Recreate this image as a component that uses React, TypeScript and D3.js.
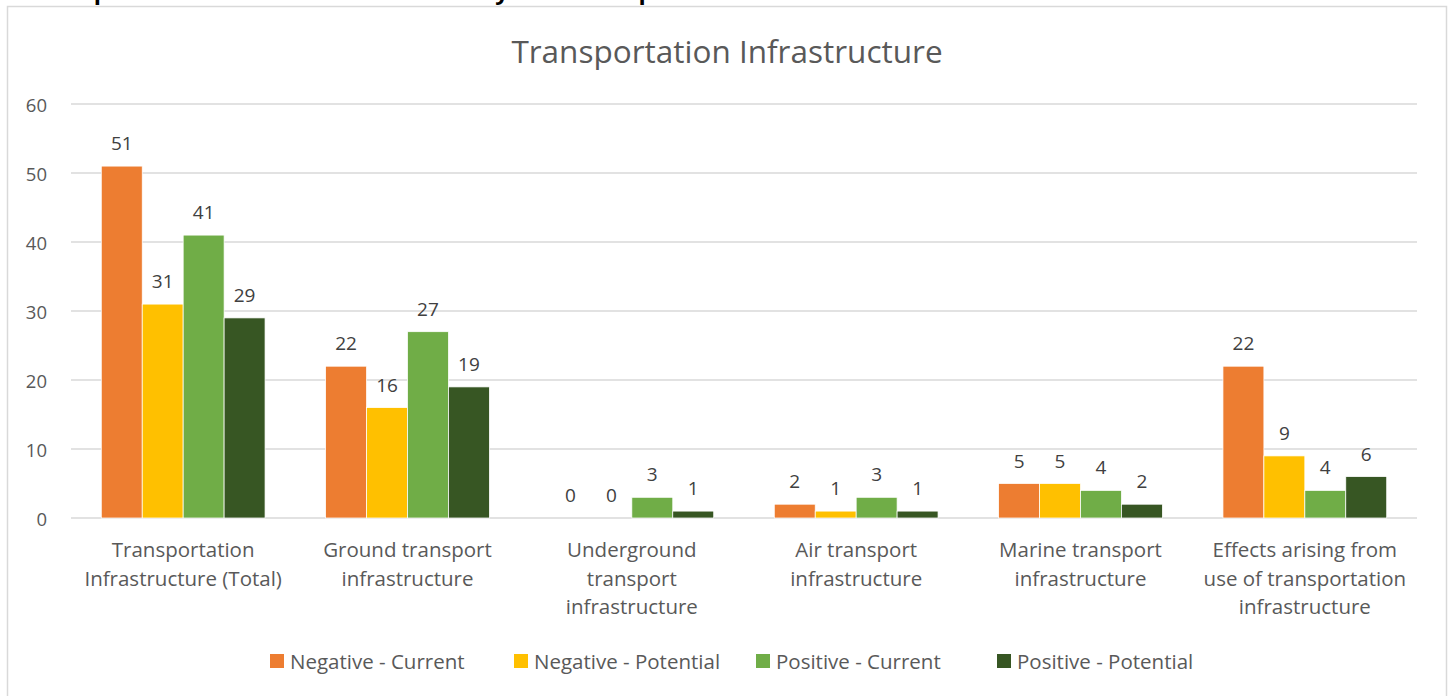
import React from "react";
import * as d3 from "d3";

const categories = [
  ["Transportation", "Infrastructure (Total)"],
  ["Ground transport", "infrastructure"],
  ["Underground", "transport", "infrastructure"],
  ["Air transport", "infrastructure"],
  ["Marine transport", "infrastructure"],
  ["Effects arising from", "use of transportation", "infrastructure"],
];
const seriesNames = ["Negative - Current", "Negative - Potential", "Positive - Current", "Positive - Potential"];
const seriesColors = ["#ED7D31", "#FFC000", "#70AD47", "#375623"];
const negativeCurrent = [51, 22, 0, 2, 5, 22];
const negativePotential = [31, 16, 0, 1, 5, 9];
const positiveCurrent = [41, 27, 3, 3, 4, 4];
const positivePotential = [29, 19, 1, 1, 2, 6];
const yTicks = [0, 10, 20, 30, 40, 50, 60];
const legendX = [270, 514, 756, 997];

const seriesValues = [negativeCurrent, negativePotential, positiveCurrent, positivePotential];

const W = 1448;
const H = 696;
const plotLeft = 71;
const plotRight = 1417;
const plotTop = 104;
const plotBottom = 518;
const FONT = "'Open Sans', sans-serif";

export default function App() {
  const idx = categories.map((_, i) => i);
  const x0 = d3.scaleBand<number>().domain(idx).range([plotLeft, plotRight]).paddingInner(0.27).paddingOuter(0.135);
  const x1 = d3.scaleBand<number>().domain(seriesNames.map((_, i) => i)).range([0, x0.bandwidth()]).padding(0);
  const y = d3.scaleLinear().domain([0, 60]).range([plotBottom, plotTop]);

  return (
    <svg width={W} height={H} style={{ position: "absolute", left: 0, top: 0, background: "#fff" }}>
      <text x={28} y={0} fontFamily={FONT} fontWeight="bold" fontSize={22} fill="#000" textLength={662} lengthAdjust="spacingAndGlyphs">
        Transportation Infrastructure Secondary Factors Impact
      </text>
      <rect x={7.5} y={6.5} width={1439} height={700} fill="#fff" stroke="#D9D9D9" strokeWidth={1.5} />
      <text x={727} y={50} textAnchor="middle" dominantBaseline="central" fontFamily={FONT} fontSize={31.5} fill="#595959">
        Transportation Infrastructure
      </text>
      {yTicks.map((t) => (
        <g key={t}>
          <line x1={plotLeft} x2={plotRight} y1={y(t)} y2={y(t)} stroke="#D9D9D9" strokeWidth={1.3} />
          <text x={47} y={y(t)} textAnchor="end" dominantBaseline="central" fontFamily={FONT} fontSize={18.5} fill="#595959">
            {t}
          </text>
        </g>
      ))}
      {idx.map((ci) => (
        <g key={ci} transform={`translate(${x0(ci)},0)`}>
          {seriesValues.map((vals, si) => {
            const v = vals[ci];
            const bx = x1(si)!;
            const bw = x1.bandwidth();
            return (
              <g key={si}>
                {v > 0 && (
                  <rect x={bx} y={y(v)} width={bw} height={y(0) - y(v)} fill={seriesColors[si]} stroke="#fff" strokeWidth={0.75} />
                )}
                <text x={bx + bw / 2} y={y(v) - 16} textAnchor="middle" fontFamily={FONT} fontSize={19} fill="#404040">
                  {v}
                </text>
              </g>
            );
          })}
        </g>
      ))}
      {categories.map((lines, ci) => (
        <text key={ci} textAnchor="middle" fontFamily={FONT} fontSize={20.5} fill="#595959">
          {lines.map((ln, li) => (
            <tspan key={li} x={x0(ci)! + x0.bandwidth() / 2} y={557 + li * 28.5}>
              {ln}
            </tspan>
          ))}
        </text>
      ))}
      {seriesNames.map((name, si) => (
        <g key={name}>
          <rect x={legendX[si]} y={654} width={14} height={14} fill={seriesColors[si]} />
          <text x={legendX[si] + 20} y={661} dominantBaseline="central" fontFamily={FONT} fontSize={20.5} fill="#595959">
            {name}
          </text>
        </g>
      ))}
    </svg>
  );
}
